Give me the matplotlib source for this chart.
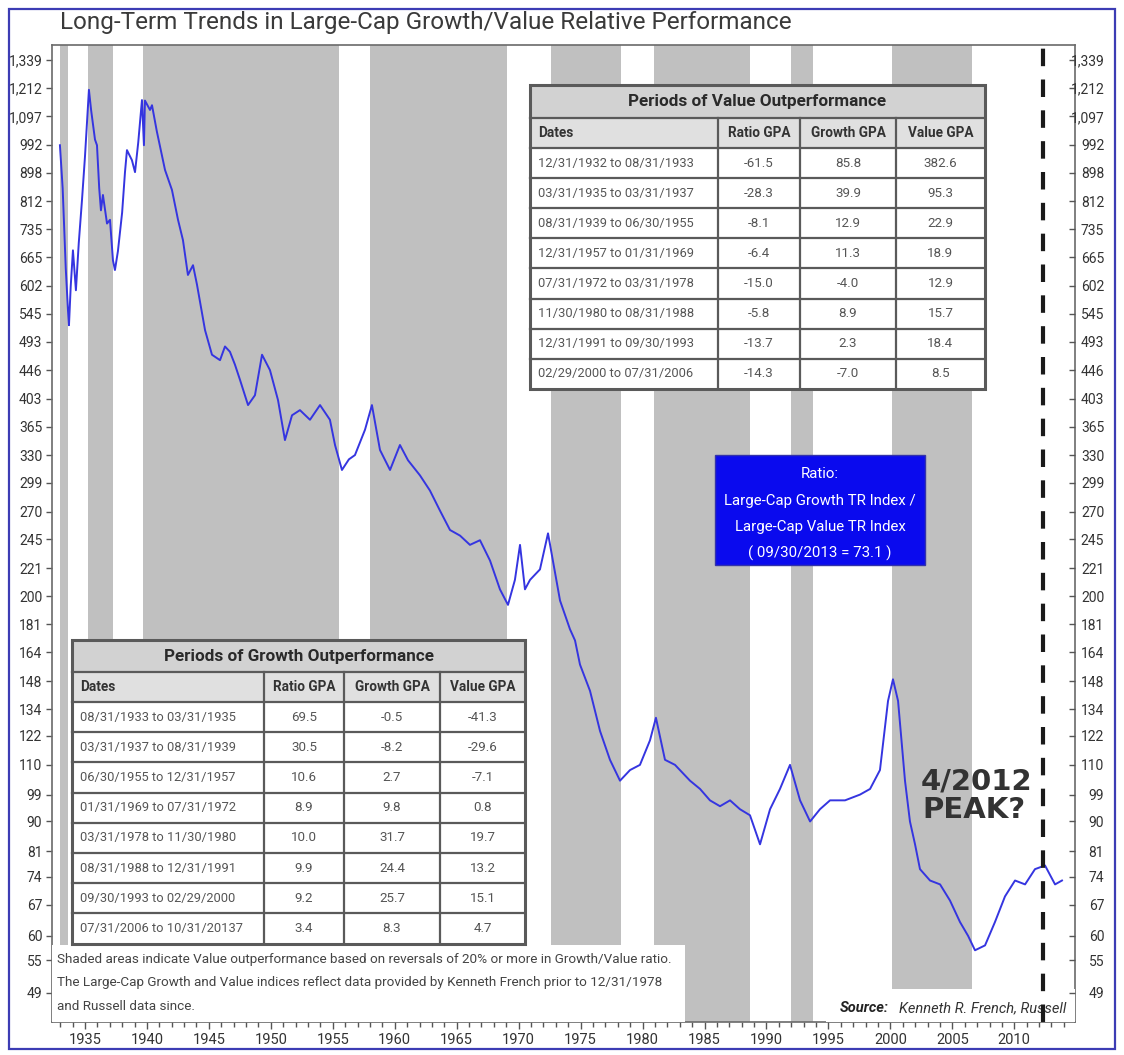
"""Long-term large-cap growth/value relative performance chart."""

import matplotlib
matplotlib.use("Agg")
import matplotlib.pyplot as plt
import matplotlib.transforms as mtransforms
from matplotlib.patches import Rectangle
from matplotlib.ticker import FixedLocator, NullLocator

W, H = 1124, 1055
FONT = ["Roboto", "DejaVu Sans"]
plt.rcParams["font.family"] = FONT

# ratio series (Growth TR / Value TR)
years = [1932.98, 1933.2, 1933.45, 1933.63, 1933.71, 1933.85, 1934.03, 1934.27, 1934.5, 1934.76,
         1935.0, 1935.32, 1935.5, 1935.81, 1935.97, 1936.15, 1936.29, 1936.45, 1936.78, 1937.02,
         1937.26, 1937.42, 1937.66, 1938.0, 1938.23, 1938.39, 1938.79, 1939.04, 1939.3, 1939.6,
         1939.76, 1939.84, 1940.25, 1940.41, 1940.8, 1941.46, 1942.02, 1942.51, 1942.91, 1943.31,
         1943.72, 1944.04, 1944.69, 1945.25, 1945.9, 1946.3, 1946.7, 1947.1, 1947.51, 1948.16,
         1948.72, 1949.29, 1949.93, 1950.58, 1951.14, 1951.71, 1952.35, 1953.16, 1953.97, 1954.77,
         1955.18, 1955.74, 1956.3, 1956.79, 1957.6, 1958.16, 1958.81, 1959.62, 1960.42, 1961.07,
         1962.04, 1962.84, 1963.65, 1964.46, 1965.27, 1966.07, 1966.88, 1967.69, 1968.49, 1969.14,
         1969.7, 1970.11, 1970.51, 1970.92, 1971.72, 1972.37, 1972.8, 1973.34, 1974.14, 1974.55,
         1974.95, 1975.76, 1976.57, 1977.37, 1978.18, 1978.99, 1979.79, 1980.6, 1981.08, 1981.81,
         1982.62, 1983.83, 1984.64, 1985.44, 1986.25, 1987.06, 1987.86, 1988.67, 1989.48, 1990.29,
         1991.09, 1991.9, 1992.71, 1993.52, 1994.32, 1995.13, 1996.34, 1997.55, 1998.36, 1999.16,
         1999.81, 2000.21, 2000.62, 2001.18, 2001.58, 2001.99, 2002.39, 2003.2, 2004.01, 2004.81,
         2005.62, 2006.27, 2006.83, 2007.64, 2008.44, 2009.25, 2010.06, 2010.87, 2011.67, 2012.48,
         2013.29, 2013.85]
ratio = [990, 850, 640, 551, 523, 600, 682, 592, 700, 815,
         950, 1205, 1120, 1010, 990, 850, 786, 830, 750, 760,
         658, 636, 680, 780, 900, 973, 939, 900, 1000, 1162,
         990, 1160, 1122, 1141, 1040, 907, 845, 760, 707, 625,
         647, 604, 514, 471, 462, 485, 476, 455, 431, 394,
         408, 471, 446, 401, 348, 380, 387, 374, 394, 374,
         342, 313, 325, 330, 361, 394, 336, 313, 342, 324,
         307, 291, 271, 253, 248, 240, 244, 227, 205, 194,
         212, 240, 205, 212, 220, 250, 225, 197, 178, 171,
         157, 143, 124, 112, 104, 108, 110, 120, 130, 112,
         110, 104, 101, 97, 95, 97, 94, 92, 83, 94,
         101, 110, 97, 90, 94, 97, 97, 99, 101, 108,
         138, 149, 138, 104, 90, 83, 76, 73, 72, 68,
         63, 60, 57, 58, 63, 69, 73, 72, 76, 77,
         72, 73]

ytick_values = [49, 55, 60, 67, 74, 81, 90, 99, 110, 122, 134, 148, 164, 181, 200, 221,
                245, 270, 299, 330, 365, 403, 446, 493, 545, 602, 665, 735, 812, 898,
                992, 1097, 1212, 1339]
xtick_years = list(range(1935, 2011, 5))

table_header = ["Dates", "Ratio GPA", "Growth GPA", "Value GPA"]
value_rows = [
    ["12/31/1932 to 08/31/1933", "-61.5", "85.8", "382.6"],
    ["03/31/1935 to 03/31/1937", "-28.3", "39.9", "95.3"],
    ["08/31/1939 to 06/30/1955", "-8.1", "12.9", "22.9"],
    ["12/31/1957 to 01/31/1969", "-6.4", "11.3", "18.9"],
    ["07/31/1972 to 03/31/1978", "-15.0", "-4.0", "12.9"],
    ["11/30/1980 to 08/31/1988", "-5.8", "8.9", "15.7"],
    ["12/31/1991 to 09/30/1993", "-13.7", "2.3", "18.4"],
    ["02/29/2000 to 07/31/2006", "-14.3", "-7.0", "8.5"],
]
growth_rows = [
    ["08/31/1933 to 03/31/1935", "69.5", "-0.5", "-41.3"],
    ["03/31/1937 to 08/31/1939", "30.5", "-8.2", "-29.6"],
    ["06/30/1955 to 12/31/1957", "10.6", "2.7", "-7.1"],
    ["01/31/1969 to 07/31/1972", "8.9", "9.8", "0.8"],
    ["03/31/1978 to 11/30/1980", "10.0", "31.7", "19.7"],
    ["08/31/1988 to 12/31/1991", "9.9", "24.4", "13.2"],
    ["09/30/1993 to 02/29/2000", "9.2", "25.7", "15.1"],
    ["07/31/2006 to 10/31/20137", "3.4", "8.3", "4.7"],
]
peak_date = 2012.3
footnote = ["Shaded areas indicate Value outperformance based on reversals of 20% or more in Growth/Value ratio.",
            "The Large-Cap Growth and Value indices reflect data provided by Kenneth French prior to 12/31/1978",
            "and Russell data since."]


def to_year(s):
    m, d, y = s.split("/")
    return int(y) + int(m) / 12


fig = plt.figure(figsize=(W / 100, H / 100), dpi=100)
# image-pixel coordinates (origin top-left)
px = mtransforms.Affine2D().scale(1 / W, -1 / H).translate(0, 1) + fig.transFigure

ax = fig.add_axes([52 / W, 1 - 1022 / H, (1075 - 52) / W, (1022 - 45) / H])
ax.set_yscale("log")
ax.set_xlim(1932.34, 2014.9)
ax.set_ylim(44.2, 1412.6)

for row in value_rows:
    start, end = row[0].split(" to ")
    ax.axvspan(to_year(start), to_year(end), color="#c0c0c0", lw=0, zorder=0)

ax.plot(years, ratio, color="#3535e0", lw=1.4, zorder=2)
ax.axvline(peak_date, color="#1a1a1a", lw=3, linestyle=(0, (4.2, 3.2)), zorder=6)

# axes styling
for sp in ax.spines.values():
    sp.set_color("#6a6a6a")
    sp.set_linewidth(1.2)
ax.xaxis.set_major_locator(FixedLocator(xtick_years))
ax.xaxis.set_minor_locator(FixedLocator(range(1933, 2015)))
ax.tick_params(axis="x", which="major", length=5, width=1, color="#555", labelsize=10.5,
               labelcolor="#333", pad=3)
ax.tick_params(axis="x", which="minor", length=3.5, width=1, color="#555")
ax.yaxis.set_minor_locator(NullLocator())
ax.set_yticks(ytick_values)
ax.set_yticklabels([f"{v:,}" for v in ytick_values])
ax.tick_params(axis="y", which="major", direction="out", length=4, width=1, color="#555",
               labelsize=10, labelcolor="#333", pad=3)

ax2 = ax.twinx()
ax2.set_yscale("log")
ax2.set_ylim(ax.get_ylim())
ax2.yaxis.set_minor_locator(NullLocator())
ax2.set_yticks(ytick_values)
ax2.set_yticklabels([f"{v:,}" for v in ytick_values], ha="right")
ax2.tick_params(axis="y", which="major", direction="in", length=4, width=1, color="#555",
                labelsize=10, labelcolor="#333", pad=21)
for sp in ax2.spines.values():
    sp.set_visible(False)


def draw_table(x_edges, y_top, title_h, head_h, row_h, title, rows):
    x0, x1 = x_edges[0], x_edges[-1]
    y_tb = y_top + title_h
    y_hb = y_tb + head_h
    y_bot = y_hb + len(rows) * row_h
    kw = dict(transform=px, clip_on=False, zorder=4)
    ax.add_patch(Rectangle((x0, y_top), x1 - x0, y_bot - y_top, fc="white", ec="none", **kw))
    ax.add_patch(Rectangle((x0, y_top), x1 - x0, title_h, fc="#d2d2d2", ec="none", **kw))
    ax.add_patch(Rectangle((x0, y_tb), x1 - x0, head_h, fc="#e0e0e0", ec="none", **kw))
    lkw = dict(transform=px, clip_on=False, zorder=5, color="#5a5a5a")
    for y in [y_tb, y_hb] + [y_hb + i * row_h for i in range(1, len(rows))]:
        ax.plot([x0, x1], [y, y], lw=1.6, **lkw)
    for x in x_edges[1:-1]:
        ax.plot([x, x], [y_tb, y_bot], lw=1.6, **lkw)
    ax.add_patch(Rectangle((x0, y_top), x1 - x0, y_bot - y_top, fc="none", ec="#5a5a5a",
                           lw=2.2, transform=px, clip_on=False, zorder=5))
    tkw = dict(transform=px, zorder=6, va="center")
    ax.text((x0 + x1) / 2, y_top + title_h / 2, title, ha="center", fontsize=12.3,
            fontweight="bold", color="#2a2a2a", **tkw)
    centers = [(a + b) / 2 for a, b in zip(x_edges[:-1], x_edges[1:])]
    ax.text(x0 + 8, y_tb + head_h / 2, table_header[0], ha="left", fontsize=9.8,
            fontweight="bold", color="#333", **tkw)
    for c, h in zip(centers[1:], table_header[1:]):
        ax.text(c, y_tb + head_h / 2, h, ha="center", fontsize=9.8, fontweight="bold",
                color="#333", **tkw)
    for i, row in enumerate(rows):
        yc = y_hb + (i + 0.5) * row_h
        ax.text(x0 + 8, yc, row[0], ha="left", fontsize=9.3, color="#555", **tkw)
        for c, v in zip(centers[1:], row[1:]):
            ax.text(c, yc, v, ha="center", fontsize=9.6, color="#555", **tkw)


draw_table([530, 718, 800, 896, 985], 85, 33, 30, 30.1, "Periods of Value Outperformance",
           value_rows)
draw_table([72, 264, 344, 440, 525], 640, 32, 30, 30.2, "Periods of Growth Outperformance",
           growth_rows)

# ratio label box
ax.add_patch(Rectangle((715, 455), 210, 110, fc="#0a0aee", ec="#3333aa", lw=1,
                       transform=px, clip_on=False, zorder=4))
box_lines = ["Ratio:", "Large-Cap Growth TR Index /", "Large-Cap Value TR Index",
             "( 09/30/2013 = 73.1 )"]
for i, s in enumerate(box_lines):
    ax.text(820, 474 + i * 26.5, s, transform=px, ha="center", va="center", fontsize=10.8,
            color="white", zorder=6)

ax.text(976, 782, "4/2012", transform=px, ha="center", va="center", fontsize=21,
        fontweight="bold", color="#333", zorder=6, family="DejaVu Sans")
ax.text(974, 810, "PEAK?", transform=px, ha="center", va="center", fontsize=21,
        fontweight="bold", color="#333", zorder=6, family="DejaVu Sans")

# footnote and source panels
ax.add_patch(Rectangle((52, 945), 633, 77, fc="white", ec="none", transform=px,
                       clip_on=False, zorder=3))
ax.add_patch(Rectangle((826, 989), 249, 33, fc="white", ec="none", transform=px,
                       clip_on=False, zorder=3))
for i, s in enumerate(footnote):
    ax.text(57, 959 + i * 23.5, s, transform=px, ha="left", va="center", fontsize=9.7,
            color="#444", zorder=6)
ax.text(840, 1008, "Source:", transform=px, ha="left", va="center", fontsize=10.5,
        fontweight="bold", fontstyle="italic", color="#222", zorder=5)
ax.text(1066, 1008, "Kenneth R. French, Russell", transform=px, ha="right", va="center",
        fontsize=10.5, fontstyle="italic", color="#333", zorder=5)

fig.text(60 / W, 1 - 22 / H, "Long-Term Trends in Large-Cap Growth/Value Relative Performance",
         ha="left", va="center", fontsize=17.5, color="#3a3a3a")
fig.add_artist(Rectangle((9, 9), 1106, 1040, fc="none", ec="#3c3cb4", lw=1.6,
                         transform=px))

fig.savefig("out.png", dpi=100)
